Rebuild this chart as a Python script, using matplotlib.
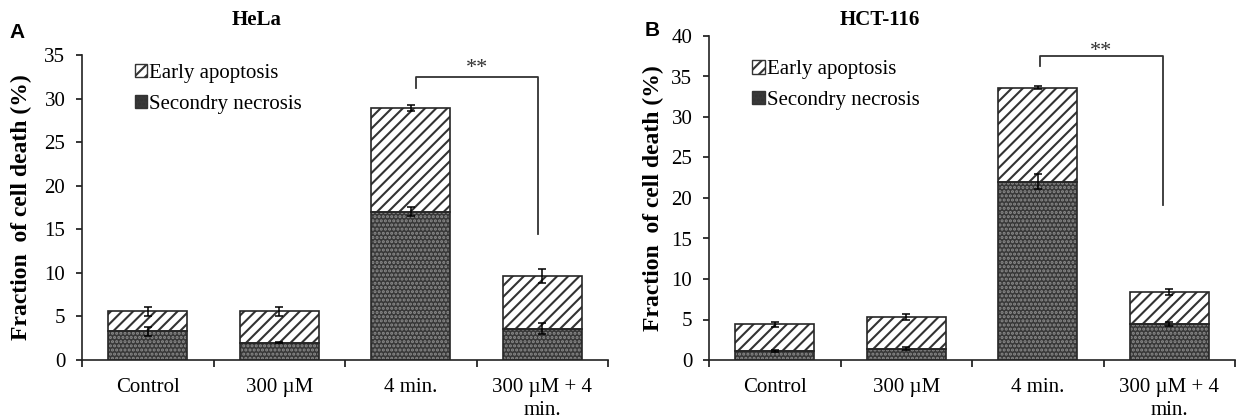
import matplotlib
matplotlib.use('Agg')
import matplotlib.pyplot as plt
from matplotlib.patches import Patch
import numpy as np

SERIF = 'Liberation Serif'
SANS = 'Liberation Sans'
W, H = 1240, 419

categories = ['Control', '300 \u00b5M', '4 min.', '300 \u00b5M + 4\nmin.']

# HeLa (panel A)
hela_necrosis = [3.3, 2.0, 17.0, 3.6]
hela_necrosis_err = [0.5, 0.1, 0.5, 0.6]
hela_total = [5.6, 5.6, 28.9, 9.6]
hela_total_err = [0.5, 0.5, 0.35, 0.8]

# HCT-116 (panel B)
hct_necrosis = [1.1, 1.4, 22.0, 4.4]
hct_necrosis_err = [0.1, 0.15, 0.95, 0.25]
hct_total = [4.4, 5.3, 33.6, 8.4]
hct_total_err = [0.3, 0.35, 0.2, 0.4]

STYLE = {
    'edge':      '#262626',
    'dark_face': '#383838',
    'dots':      '#8c8c8c',
    'stripes':   '#333333',
}

plt.rcParams['hatch.linewidth'] = 1.5


def draw_panel(ax, necrosis, nec_err, total, tot_err, ymax, title, title_xy,
               letter, legend_anchor, bracket, star_y, labelpad):
    fig = ax.figure
    x = np.arange(len(categories))
    w = 0.6
    early = np.array(total) - np.array(necrosis)

    # hatched fills (edge colour = hatch colour), then outlines
    ax.bar(x, necrosis, w, color=STYLE['dark_face'], edgecolor=STYLE['dots'],
           hatch='....', linewidth=0, zorder=2)
    ax.bar(x, early, w, bottom=necrosis, color='white',
           edgecolor=STYLE['stripes'], hatch='///', linewidth=0, zorder=2)
    ax.bar(x, necrosis, w, fill=False, edgecolor=STYLE['edge'], linewidth=1.2, zorder=3)
    ax.bar(x, early, w, bottom=necrosis, fill=False,
           edgecolor=STYLE['edge'], linewidth=1.2, zorder=3)

    ax.errorbar(x, necrosis, yerr=nec_err, fmt='none', ecolor='black',
                elinewidth=1.1, capsize=3, capthick=1.1, zorder=4)
    ax.errorbar(x, total, yerr=tot_err, fmt='none', ecolor='black',
                elinewidth=1.1, capsize=3, capthick=1.1, zorder=4)

    # significance bracket
    x0, x1, y_top, y_left, y_right = bracket
    ax.plot([x0, x0, x1, x1], [y_left, y_top, y_top, y_right],
            color='#333333', linewidth=1.3, zorder=4)
    ax.text((x0 + x1) / 2, star_y, '**', ha='center', va='center',
            fontsize=16, family=SERIF, color='#333333')

    ax.set_xlim(-0.5, len(categories) - 0.5)
    ax.set_ylim(0, ymax)
    ax.set_yticks(np.arange(0, ymax + 1, 5))
    ax.set_xticks(x)
    ax.set_xticklabels(categories, fontsize=15, family=SERIF, linespacing=1.3)
    ax.set_xticks(np.arange(-0.5, len(categories), 1), minor=True)
    ax.tick_params(axis='x', which='major', length=0, pad=13)
    ax.tick_params(axis='x', which='minor', length=5, width=1.1, direction='out')
    ax.tick_params(axis='y', length=4, width=1.1, direction='out', labelsize=15, pad=8)
    for lab in ax.get_yticklabels():
        lab.set_family(SERIF)
    for s in ('top', 'right'):
        ax.spines[s].set_visible(False)
    for s in ('left', 'bottom'):
        ax.spines[s].set_linewidth(1.2)
        ax.spines[s].set_color('#222222')

    ax.set_ylabel('Fraction  of cell death (%)', fontsize=17, fontweight='bold',
                  family=SERIF, labelpad=labelpad)
    fig.text(title_xy[0] / W, 1 - title_xy[1] / H, title, ha='center',
             va='center', fontsize=15, fontweight='bold', family=SERIF)
    fig.text(letter[0] / W, 1 - letter[1] / H, letter[2], ha='center',
             va='center', fontsize=15, fontweight='bold', family=SANS)

    handles = [
        Patch(facecolor='white', edgecolor=STYLE['stripes'], hatch='///', linewidth=1.0),
        Patch(facecolor=STYLE['dark_face'], edgecolor=STYLE['dots'], hatch='....', linewidth=1.0),
    ]
    leg = ax.legend(handles, ['Early apoptosis', 'Secondry necrosis'],
                    loc='upper left', bbox_to_anchor=legend_anchor, frameon=False,
                    prop={'family': SERIF, 'size': 15}, handlelength=0.6,
                    handleheight=0.6, handletextpad=0.1, labelspacing=0.55,
                    borderaxespad=0, borderpad=0)
    for h in leg.legend_handles:
        h.set_edgecolor('#333333')


fig = plt.figure(figsize=(W / 100, H / 100), dpi=100)
ax1 = fig.add_axes([82 / W, 59 / H, 526 / W, 305 / H])
ax2 = fig.add_axes([709 / W, 59 / H, 526 / W, 324 / H])

draw_panel(ax1, hela_necrosis, hela_necrosis_err, hela_total, hela_total_err,
           35, 'HeLa', (257, 20), (17, 33, 'A'), (0.10, 0.97),
           (2.04, 2.97, 32.5, 31.2, 14.5), 33.5, 9)
draw_panel(ax2, hct_necrosis, hct_necrosis_err, hct_total, hct_total_err,
           40, 'HCT-116', (880, 20), (652, 31, 'B'), (0.082, 0.925),
           (2.02, 2.95, 37.5, 36.3, 19.1), 38.1, 5)

fig.savefig('out.png', dpi=100)
